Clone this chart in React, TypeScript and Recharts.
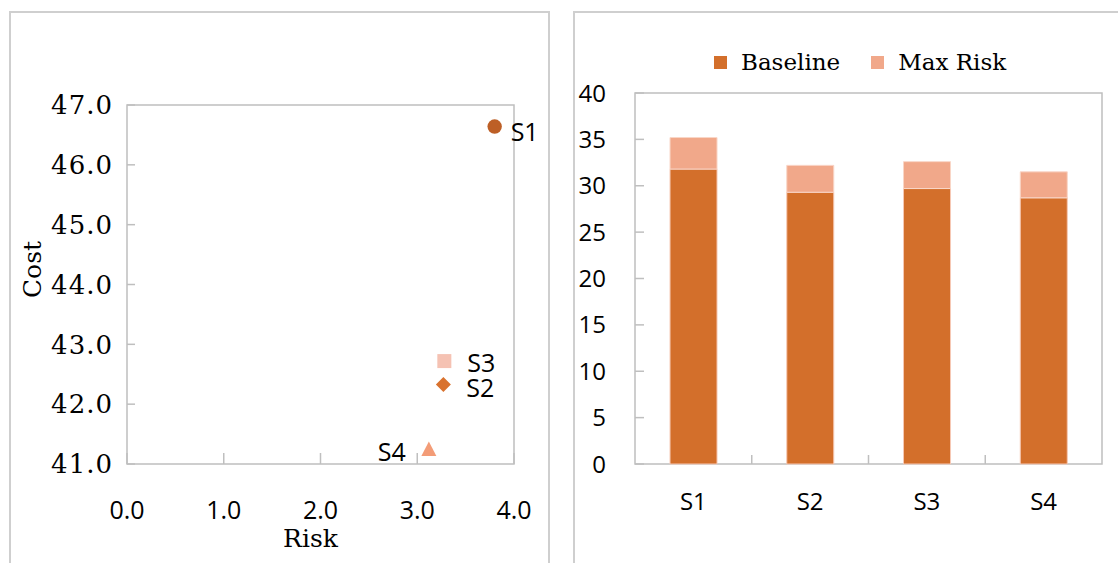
import React from 'react';
import {
  ScatterChart,
  Scatter,
  BarChart,
  Bar,
  XAxis,
  YAxis,
  ReferenceArea,
  Legend,
} from 'recharts';

// scenarios shared by both panels
const scenarios = ['S1', 'S2', 'S3', 'S4'];

// left panel: risk vs cost
const riskValues = [3.8, 3.27, 3.28, 3.12];
const costValues = [46.64, 42.33, 42.72, 41.25];
const riskTicks = [0, 1, 2, 3, 4];
const costTicks = [41, 42, 43, 44, 45, 46, 47];

// right panel: stacked cost
const baselineValues = [31.8, 29.3, 29.7, 28.7];
const maxRiskValues = [3.4, 2.9, 2.9, 2.8];
const barTicks = [0, 5, 10, 15, 20, 25, 30, 35, 40];

const SANS = '"Open Sans", "Noto Sans", sans-serif';
const SERIF = '"DejaVu Serif", serif';
const GRID = '#BFBFBF';
const FRAME = '#CFCFCF';

const BASELINE_COLOR = '#D36F2B';
const MAXRISK_COLOR = '#F1A88A';

const markerStyles: Record<string, { kind: string; color: string; dx: number; dy: number }> = {
  S1: { kind: 'circle', color: '#BD5F26', dx: 16, dy: 4 },
  S2: { kind: 'diamond', color: '#D9722E', dx: 23, dy: 3 },
  S3: { kind: 'square', color: '#F5C2B3', dx: 23, dy: 1 },
  S4: { kind: 'triangle', color: '#F39C77', dx: -23, dy: 2 },
};

const scatterData = scenarios.map((name, i) => ({
  name,
  risk: riskValues[i],
  cost: costValues[i],
}));

const barData = scenarios.map((name, i) => ({
  name,
  baseline: baselineValues[i],
  maxRisk: maxRiskValues[i],
}));

const renderMarker = (props: any) => {
  const { cx, cy, payload } = props;
  const st = markerStyles[payload.name];
  let mark: React.ReactNode = null;
  if (st.kind === 'circle') {
    mark = <circle cx={cx} cy={cy} r={7.2} fill={st.color} />;
  } else if (st.kind === 'square') {
    mark = <rect x={cx - 7} y={cy - 7} width={14} height={14} fill={st.color} />;
  } else if (st.kind === 'diamond') {
    mark = (
      <polygon
        points={`${cx},${cy - 7.5} ${cx + 7.5},${cy} ${cx},${cy + 7.5} ${cx - 7.5},${cy}`}
        fill={st.color}
      />
    );
  } else {
    mark = (
      <polygon
        points={`${cx},${cy - 7.5} ${cx + 7.5},${cy + 7} ${cx - 7.5},${cy + 7}`}
        fill={st.color}
      />
    );
  }
  return (
    <g>
      {mark}
      <text
        x={cx + st.dx}
        y={cy + st.dy}
        dominantBaseline="central"
        textAnchor={st.dx < 0 ? 'end' : 'start'}
        fontFamily={SANS}
        fontSize={25}
        fill="#000"
      >
        {payload.name}
      </text>
    </g>
  );
};

const renderCostLabel = (props: any) => {
  const vb = props.viewBox || { x: 27, y: 105, width: 100, height: 359 };
  const x = vb.x + 14;
  const y = vb.y + vb.height / 2 - 15;
  return (
    <text
      x={x}
      y={y}
      transform={`rotate(-90, ${x}, ${y})`}
      textAnchor="middle"
      fontFamily={SERIF}
      fontSize={25}
      fill="#000"
    >
      Cost
    </text>
  );
};

const renderRiskLabel = (props: any) => {
  const vb = props.viewBox || { x: 127, y: 464, width: 387, height: 90 };
  return (
    <text
      x={vb.x + vb.width / 2 - 10}
      y={vb.y + 83}
      textAnchor="middle"
      fontFamily={SERIF}
      fontSize={25}
      fill="#000"
    >
      Risk
    </text>
  );
};

const BandTick = (props: any) => {
  const { x, y, payload, index } = props;
  const half = payload && payload.offset ? payload.offset : 0;
  const axisY = y - 29;
  return (
    <g>
      {index > 0 && (
        <line x1={x - half} x2={x - half} y1={axisY} y2={axisY - 9} stroke={GRID} strokeWidth={1.5} />
      )}
      <text x={x} y={y} dy="0.71em" textAnchor="middle" fontFamily={SANS} fontSize={24} fill="#000">
        {payload.value}
      </text>
    </g>
  );
};

const renderLegend = () => {
  const items = [
    { label: 'Baseline', color: BASELINE_COLOR },
    { label: 'Max Risk', color: MAXRISK_COLOR },
  ];
  return (
    <div
      style={{
        height: 30,
        display: 'flex',
        alignItems: 'center',
        paddingLeft: 154,
        fontFamily: SERIF,
        fontSize: 23,
        color: '#000',
      }}
    >
      {items.map((it) => (
        <div key={it.label} style={{ display: 'flex', alignItems: 'center', marginRight: 31 }}>
          <span style={{ width: 13, height: 13, background: it.color, marginRight: 14 }} />
          <span>{it.label}</span>
        </div>
      ))}
    </div>
  );
};

export default function App() {
  return (
    <div
      style={{
        position: 'absolute',
        left: 0,
        top: 0,
        width: 1118,
        height: 563,
        overflow: 'hidden',
        background: '#fff',
      }}
    >
      <div
        style={{
          position: 'absolute',
          left: 9,
          top: 11,
          width: 537,
          height: 600,
          border: `2px solid ${FRAME}`,
        }}
      />
      <div
        style={{
          position: 'absolute',
          left: 573,
          top: 11,
          width: 600,
          height: 600,
          border: `2px solid ${FRAME}`,
        }}
      />

      <div style={{ position: 'absolute', left: 0, top: 0 }}>
        <ScatterChart width={560} height={563} margin={{ top: 105, right: 46, bottom: 9, left: 27 }}>
          <XAxis
            type="number"
            dataKey="risk"
            domain={[0, 4]}
            ticks={riskTicks}
            height={90}
            axisLine={false}
            tickSize={-11}
            tickMargin={48}
            tickLine={{ stroke: GRID, strokeWidth: 1.5 }}
            tickFormatter={(v: number) => v.toFixed(1)}
            tick={{ fill: '#000', fontSize: 25, fontFamily: SANS }}
            label={renderRiskLabel}
          />
          <YAxis
            type="number"
            dataKey="cost"
            domain={[41, 47]}
            ticks={costTicks}
            width={100}
            axisLine={false}
            tickSize={-8}
            tickMargin={22}
            tickLine={{ stroke: GRID, strokeWidth: 1.5 }}
            tickFormatter={(v: number) => v.toFixed(1)}
            tick={{ fill: '#000', fontSize: 26, fontFamily: SERIF, letterSpacing: 1 }}
            label={renderCostLabel}
          />
          <ReferenceArea
            x1={0}
            x2={4}
            y1={41}
            y2={47}
            fill="none"
            stroke={GRID}
            strokeWidth={1.5}
            ifOverflow="visible"
          />
          {scatterData.map((d) => (
            <Scatter key={d.name} data={[d]} shape={renderMarker} isAnimationActive={false} />
          ))}
        </ScatterChart>
      </div>

      <div style={{ position: 'absolute', left: 560, top: 0 }}>
        <BarChart
          width={558}
          height={563}
          data={barData}
          margin={{ top: 63, right: 16, bottom: 9, left: 15 }}
          barCategoryGap="30%"
        >
          <Legend verticalAlign="top" content={renderLegend} wrapperStyle={{ top: 47, left: 0, width: 558 }} />
          <XAxis
            dataKey="name"
            height={90}
            axisLine={false}
            tickLine={false}
            tickSize={0}
            tickMargin={29}
            tick={<BandTick />}
            interval={0}
          />
          <YAxis
            type="number"
            domain={[0, 40]}
            ticks={barTicks}
            width={60}
            axisLine={false}
            tickSize={-9}
            tickMargin={38}
            tickLine={{ stroke: GRID, strokeWidth: 1.5 }}
            tick={{ fill: '#000', fontSize: 24, fontFamily: SANS }}
          />
          <Bar
            dataKey="baseline"
            stackId="a"
            fill={BASELINE_COLOR}
            stroke="#F6C9B5"
            strokeWidth={1}
            isAnimationActive={false}
          />
          <Bar
            dataKey="maxRisk"
            stackId="a"
            fill={MAXRISK_COLOR}
            stroke="#F9D6C8"
            strokeWidth={1}
            isAnimationActive={false}
          />
          <ReferenceArea
            x1="S1"
            x2="S4"
            y1={0}
            y2={40}
            fill="none"
            stroke={GRID}
            strokeWidth={1.5}
            ifOverflow="visible"
          />
        </BarChart>
      </div>
    </div>
  );
}
